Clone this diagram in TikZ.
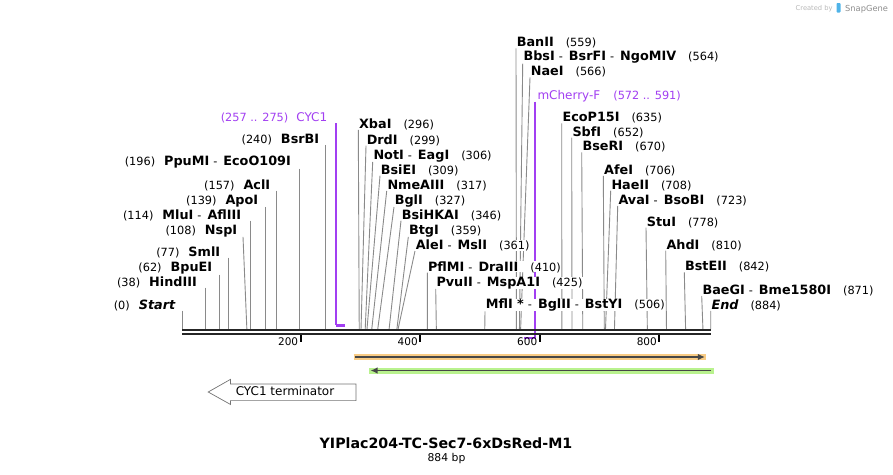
\documentclass[tikz,border=0pt]{standalone}
\usepackage{fontspec}
\setmainfont{DejaVu Sans}
\usepackage{tikz}
\usetikzlibrary{arrows.meta,positioning,calc,backgrounds}
\definecolor{siteln}{HTML}{8A8A8A}
\definecolor{primc}{HTML}{A23FF2}
\definecolor{orfill}{HTML}{F9CC85}
\definecolor{grfill}{HTML}{B9F28E}
\definecolor{featln}{HTML}{474747}
\definecolor{credc}{HTML}{B8B8B8}
\definecolor{logoc}{HTML}{4FB3E8}
\tikzset{
  lbl/.style={fill=white, inner xsep=0.6pt, inner ysep=0pt, font=\fontsize{11.3}{13}\selectfont},
  siteline/.style={draw=siteln, line width=0.9pt},
  primline/.style={draw=primc, line width=1.5pt},
  primbar/.style={draw=primc, line width=2.4pt},
  axisline/.style={draw=black!85, line width=2.3pt},
  tickmark/.style={draw=black, line width=2pt},
  ticklabel/.style={font=\fontsize{10.5}{12}\selectfont, inner sep=0pt, anchor=base east},
  band/.style={draw=#1, line width=6pt},
  featarrow/.style={draw=featln, line width=1.6pt},
  termshape/.style={draw=black!55, line width=0.7pt, fill=white},
  termtext/.style={font=\fontsize{12}{13}\selectfont, inner sep=0pt, anchor=base west},
  titletext/.style={font=\fontsize{14.2}{16}\selectfont\bfseries, inner sep=0pt, anchor=base},
  sizetext/.style={font=\fontsize{10.8}{12}\selectfont, inner sep=0pt, anchor=base},
  credit/.style={text=credc, inner sep=0pt, anchor=base west},
}
\newcommand{\enz}[1]{{\fontsize{12.8}{13}\selectfont\bfseries #1}}
\newcommand{\dashsep}{\hspace{4pt}-\hspace{6pt}}
\def\xo{182.3}
\def\bpw{0.59774}
\def\yax{-329}
% right-hand and left-hand cut site labels
\newcommand{\siteR}[5]{%
  \coordinate (#1cut) at ({\xo+#2*\bpw},\yax);
  \node[lbl, anchor=base west] (#1) at (#3,-#4) {#5};
  \begin{pgfonlayer}{background}\draw[siteline] (#1.south west) -- (#1cut);\end{pgfonlayer}}
\newcommand{\siteL}[5]{%
  \coordinate (#1cut) at ({\xo+#2*\bpw},\yax);
  \node[lbl, anchor=base east] (#1) at (#3,-#4) {#5};
  \begin{pgfonlayer}{background}\draw[siteline] (#1.south east -| #1cut) -- (#1cut);\end{pgfonlayer}}

\begin{document}
\begin{tikzpicture}[x=1pt,y=1pt]
  \useasboundingbox (0,0) rectangle (893,-474);
  % credit line
  \node[credit, font=\fontsize{6.7}{8}\selectfont] (created) at (795.5,-10) {Created by};
  \fill[logoc, rounded corners=0.8pt] (836.5,-3) rectangle (840.5,-12.5);
  \node[credit, font=\fontsize{8.3}{10}\selectfont, text=black!45] (snapgene) at (845,-11) {SnapGene};

  % primers (drawn first so that the site labels sit on top)
  \coordinate (cycA) at ({\xo+257*\bpw},-325.3);
  \coordinate (cycB) at ({\xo+273*\bpw},-325.3);
  \node[lbl, anchor=base east, text=primc] (cycp) at (328,-121.6) {(257 .. 275)\hspace{8pt}{\fontsize{12}{13}\selectfont CYC1}};
  \draw[primline] (cycp.south east -| cycA) -- (cycA);
  \draw[primbar] (cycA) -- (cycB);
  \coordinate (mchA) at ({\xo+572*\bpw},-338);
  \coordinate (mchB) at (535,-338);
  \node[lbl, anchor=base west, text=primc] (mchp) at (536.7,-99) {{\fontsize{12}{13}\selectfont mCherry-F}\hspace{13pt}(572 .. 591)};
  \draw[primline] (mchp.south west -| mchB) -- (mchB);
  \draw[primbar] (mchB) -- (mchA);

  \siteL{start}{0}{176}{309}{(0)\hspace{9pt}\enz{\itshape Start}}
  \siteL{hind}{38}{197.7}{286}{(38)\hspace{9pt}\enz{HindIII}}
  \siteL{bpu}{62}{213}{271.7}{(62)\hspace{9pt}\enz{BpuEI}}
  \siteL{sml}{77}{221}{256}{(77)\hspace{9pt}\enz{SmlI}}
  \coordinate (nspcut) at ({\xo+108*\bpw},\yax);
  \node[lbl, anchor=base east] (nsp) at (238,-234) {(108)\hspace{9pt}\enz{NspI}};
  \begin{pgfonlayer}{background}\draw[siteline] ([xshift=5pt]nsp.south east) -- (nspcut);\end{pgfonlayer}
  \siteL{mlu}{114}{242}{219}{(114)\hspace{9pt}\enz{MluI}\dashsep\enz{AflIII}}
  \siteL{apo}{139}{259}{204}{(139)\hspace{9pt}\enz{ApoI}}
  \siteL{acl}{157}{271}{189}{(157)\hspace{9pt}\enz{AclI}}
  \siteL{ppu}{196}{291.7}{165.7}{(196)\hspace{9pt}\enz{PpuMI}\dashsep\enz{EcoO109I}}
  \siteL{bsrb}{240}{320}{143.3}{(240)\hspace{9pt}\enz{BsrBI}}

  \siteR{xba}{296}{358.3}{128.3}{\enz{XbaI}\hspace{12pt}(296)}
  \siteR{drd}{299}{366}{144}{\enz{DrdI}\hspace{12pt}(299)}
  \siteR{nota}{306}{372.7}{159}{\enz{NotI}\dashsep\enz{EagI}\hspace{12pt}(306)}
  \siteR{bsie}{309}{380}{174}{\enz{BsiEI}\hspace{12pt}(309)}
  \siteR{nme}{317}{386.7}{189.3}{\enz{NmeAIII}\hspace{12pt}(317)}
  \siteR{bgl}{327}{394}{204}{\enz{BglI}\hspace{12pt}(327)}
  \siteR{bsih}{346}{401}{219}{\enz{BsiHKAI}\hspace{12pt}(346)}
  \siteR{btg}{359}{408.3}{234}{\enz{BtgI}\hspace{12pt}(359)}
  \siteR{ale}{361}{415}{249.3}{\enz{AleI}\dashsep\enz{MslI}\hspace{12pt}(361)}
  \siteR{pfl}{410}{427.3}{271}{\enz{PflMI}\dashsep\enz{DraIII}\hspace{12pt}(410)}
  \siteR{pvu}{425}{435.7}{286}{\enz{PvuII}\dashsep\enz{MspA1I}\hspace{12pt}(425)}
  \siteR{mfl}{506}{485}{308.3}{\enz{MflI *}\dashsep\enz{BglII}\dashsep\enz{BstYI}\hspace{12pt}(506)}
  \siteR{ban}{559}{516}{46.7}{\enz{BanII}\hspace{12pt}(559)}
  \siteR{bbs}{564}{522.7}{60.7}{\enz{BbsI}\dashsep\enz{BsrFI}\dashsep\enz{NgoMIV}\hspace{12pt}(564)}
  \siteR{nae}{566}{530}{75.7}{\enz{NaeI}\hspace{12pt}(566)}
  \siteR{ecop}{635}{561.7}{121.7}{\enz{EcoP15I}\hspace{12pt}(635)}
  \siteR{sbf}{652}{571.7}{136}{\enz{SbfI}\hspace{12pt}(652)}
  \siteR{bser}{670}{581.7}{150.7}{\enz{BseRI}\hspace{12pt}(670)}
  \siteR{afe}{706}{603.3}{174.3}{\enz{AfeI}\hspace{12pt}(706)}
  \siteR{hae}{708}{610.7}{189}{\enz{HaeII}\hspace{12pt}(708)}
  \siteR{ava}{723}{617.7}{204.3}{\enz{AvaI}\dashsep\enz{BsoBI}\hspace{12pt}(723)}
  \siteR{stu}{778}{646}{226}{\enz{StuI}\hspace{12pt}(778)}
  \siteR{ahd}{810}{665.7}{249}{\enz{AhdI}\hspace{12pt}(810)}
  \siteR{bste}{842}{684.3}{270.7}{\enz{BstEII}\hspace{12pt}(842)}
  \siteR{baeg}{871}{701.7}{294.3}{\enz{BaeGI}\dashsep\enz{Bme1580I}\hspace{12pt}(871)}
  \siteR{fin}{884}{710.7}{309.3}{\enz{\itshape End}\hspace{12pt}(884)}

  % sequence ruler
  \coordinate (seqL) at (\xo,-330.2);
  \coordinate (seqR) at ({\xo+884*\bpw},-330.2);
  \draw[axisline] (seqL) -- (seqR);
  \draw[axisline] ([yshift=-3.6pt]seqL) -- ([yshift=-3.6pt]seqR);
  \foreach \t in {200,400,600,800}{
    \draw[tickmark] ({\xo+\t*\bpw-1},-335) -- ++(0,-7);
    \node[ticklabel] (tick\t) at ({\xo+\t*\bpw-3.5},-345.3) {\t};}

  % features
  \coordinate (orL) at (353.6,-357);
  \coordinate (orR) at (706.4,-357);
  \draw[band=orfill] (orL) -- (orR);
  \draw[featarrow, -{Latex[length=7pt,width=6.5pt]}] ([xshift=1.5pt]orL) -- ([xshift=-1.5pt]orR);
  \coordinate (grL) at (369,-370.5);
  \coordinate (grR) at (713.5,-370.5);
  \draw[band=grfill] (grL) -- (grR);
  \draw[featarrow, -{Latex[length=7pt,width=6.5pt]}] ([xshift=-2.5pt]grR) -- ([xshift=1.5pt]grL);

  \draw[termshape] (208.2,-392) -- (230.4,-379.4) -- (230.4,-384) -- (356,-384)
    -- (356,-400.6) -- (230.4,-400.6) -- (230.4,-404.4) -- cycle;
  \node[termtext] (cycterm) at (235.6,-395.6) {CYC1 terminator};

  \node[titletext] (title) at (446,-448.3) {YIPlac204-TC-Sec7-6xDsRed-M1};
  \node[sizetext] (size) at (446.5,-461.7) {884 bp};
\end{tikzpicture}
\end{document}
